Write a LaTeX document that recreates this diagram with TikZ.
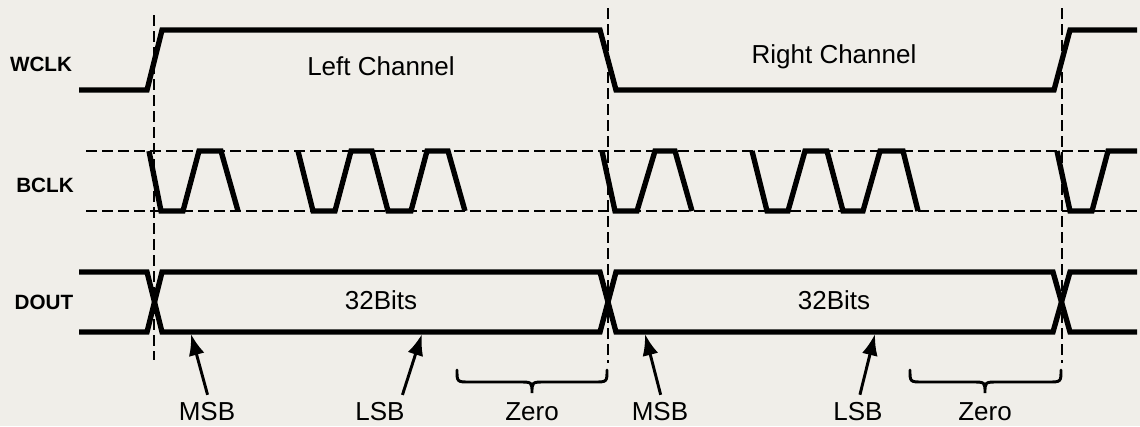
\documentclass[tikz,border=0pt]{standalone}
\usepackage{fontspec}
\setmainfont{Liberation Sans}
\usetikzlibrary{arrows.meta}
\definecolor{bg}{HTML}{F0EEE9}
\begin{document}
\begin{tikzpicture}[x=0.75pt,y=-0.75pt,
  wave/.style={line width=4pt, line join=miter, line cap=butt},
  guide/.style={line width=1.8pt, dash pattern=on 8pt off 4pt},
  signame/.style={font=\fontsize{15.5}{18}\selectfont\bfseries, inner sep=0pt},
  lbl/.style={font=\fontsize{19.5}{22}\selectfont, inner sep=0pt},
  pointer/.style={line width=2.2pt, -{Latex[length=16pt,width=12pt]}, shorten <=6pt},
  zbrace/.style={line width=2.2pt, line cap=round}]
\fill[bg] (0,0) rectangle (1140,426);
\useasboundingbox (0,0) rectangle (1140,426);

% guide lines
\draw[guide] (86,151) -- (1140,151);
\draw[guide] (86,211) -- (1140,211);
\draw[guide] (154,15) -- (154,360);
\draw[guide] (608,8) -- (608,363);
\draw[guide] (1062,8) -- (1062,363);

% signal names
\node[signame] (wclk) at (41,64) {WCLK};
\node[signame] (bclk) at (45,185) {BCLK};
\node[signame] (dout) at (44,302) {DOUT};

% WCLK
\draw[wave] (79,90) -- (147,90) -- (162,30) -- (600,30) -- (616,90) -- (1054,90) -- (1070,30) -- (1137,30);

% BCLK
\draw[wave] (149,151) -- (161,211) -- (183,211) -- (199,151) -- (221,151) -- (238,211);
\draw[wave] (298,151) -- (313,211) -- (335,211) -- (351,151) -- (372,151) -- (388,211) -- (411,211) -- (427,151) -- (448,151) -- (465,211);
\draw[wave] (602,151) -- (615,211) -- (637,211) -- (655,151) -- (675,151) -- (692,211);
\draw[wave] (752,151) -- (767,211) -- (788,211) -- (805,151) -- (827,151) -- (843,211) -- (863,211) -- (880,151) -- (903,151) -- (918,211);
\draw[wave] (1057,151) -- (1070,211) -- (1092,211) -- (1108,151) -- (1137,151);

% DOUT
\draw[wave] (79,272) -- (147,272) -- (162,332) -- (600,332) -- (616,272) -- (1053,272) -- (1070,332) -- (1137,332);
\draw[wave] (79,332) -- (147,332) -- (162,272) -- (600,272) -- (616,332) -- (1053,332) -- (1070,272) -- (1137,272);

% texts
\node[lbl] (left) at (381,66) {Left Channel};
\node[lbl] (right) at (834,57) {Right Channel};
\node[lbl] (bits1) at (381,300) {32Bits};
\node[lbl] (bits2) at (834,300) {32Bits};

\node[lbl] (msb1) at (207,412) {MSB};
\node[lbl] (lsb1) at (380,412) {LSB};
\node[lbl] (zero1) at (532,412) {Zero};
\node[lbl] (msb2) at (660,412) {MSB};
\node[lbl] (lsb2) at (858,412) {LSB};
\node[lbl] (zero2) at (985,412) {Zero};

\coordinate (tmsb1) at (191,334);
\coordinate (tlsb1) at (422,334);
\coordinate (tmsb2) at (645,334);
\coordinate (tlsb2) at (875,334);
\draw[pointer] ([xshift=2pt]msb1.north) -- (tmsb1);
\draw[pointer] ([xshift=15pt]lsb1.north) -- (tlsb1);
\draw[pointer] ([xshift=2pt]msb2.north) -- (tmsb2);
\draw[pointer] ([xshift=0pt]lsb2.north) -- (tlsb2);

% braces
\coordinate (b1l) at (457,370);
\coordinate (b1r) at (607,370);
\coordinate (b2l) at (910,370);
\coordinate (b2r) at (1061,370);
\draw[zbrace] (b1l) .. controls +(0,12) .. ++(13,12) -- ++(49,0) .. controls +(13,0) .. ++(13,11)
  .. controls +(0,-11) .. ++(13,-11) -- ++(49,0) .. controls +(13,0) .. (b1r);
\draw[zbrace] (b2l) .. controls +(0,12) .. ++(13,12) -- ++(49,0) .. controls +(13,0) .. ++(13,11)
  .. controls +(0,-11) .. ++(13,-11) -- ++(50,0) .. controls +(13,0) .. (b2r);
\end{tikzpicture}
\end{document}
